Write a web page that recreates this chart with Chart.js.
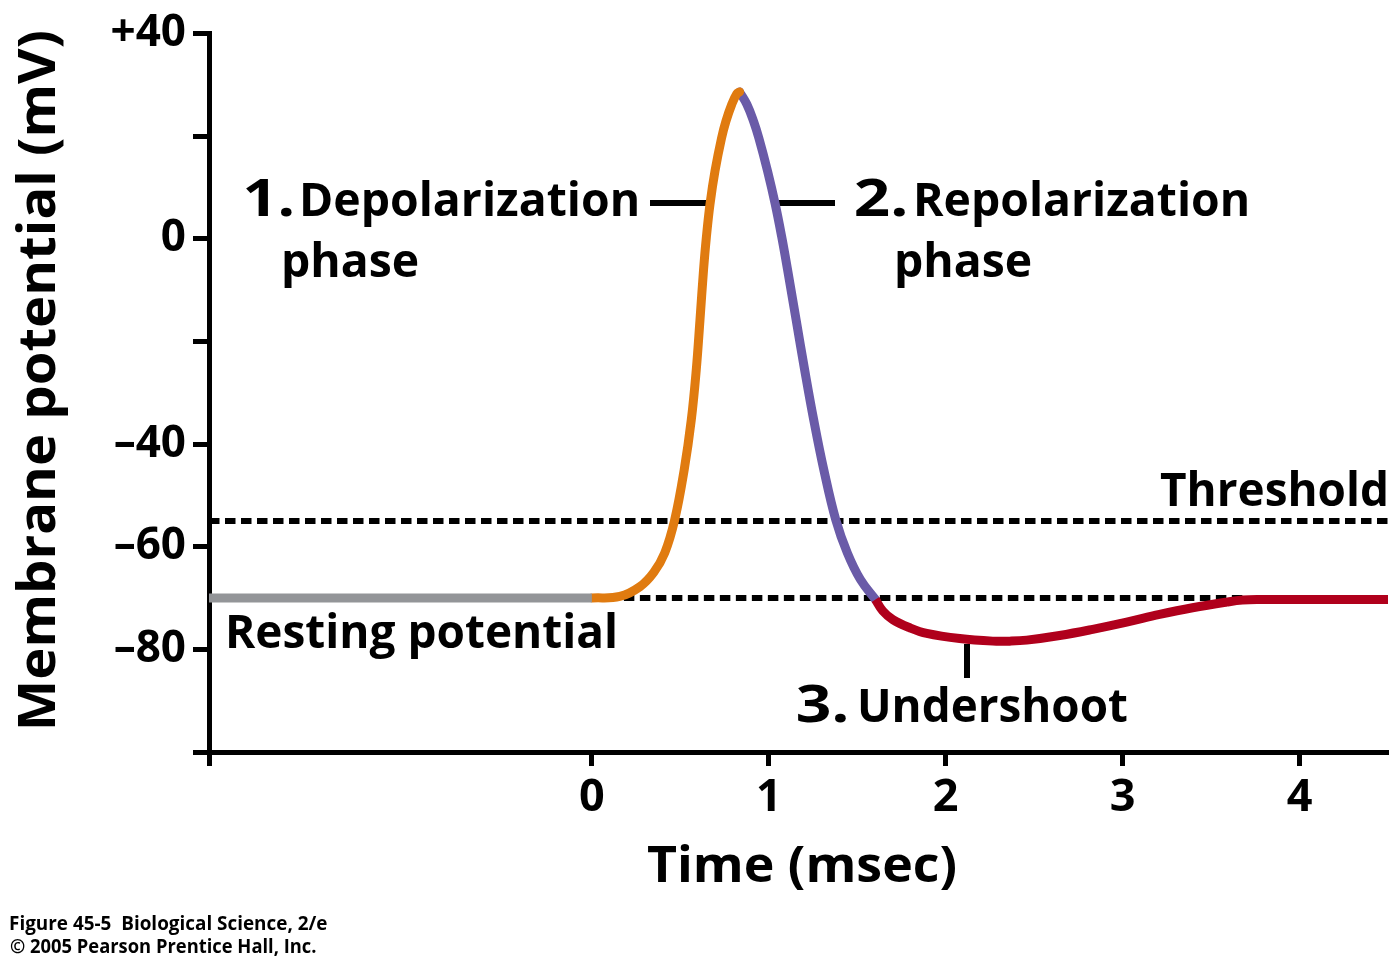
<!DOCTYPE html>
<html>
<head>
<meta charset="utf-8">
<script src="https://cdn.jsdelivr.net/npm/chart.js@4.4.1/dist/chart.umd.min.js"></script>
<style>
html,body{margin:0;padding:0;background:#fff;}
#wrap{width:1400px;height:959px;position:relative;}
</style>
</head>
<body>
<div id="wrap"><canvas id="c"></canvas></div>
<script>
// ---------- data ----------
const xAxisMin = -2.164;
const xAxisMax = 4.5;
const yAxisMin = -100;
const yAxisMax = 40;
const xTickValues = [0, 1, 2, 3, 4];
const xTickLabels = ['0', '1', '2', '3', '4'];
const yTickValues = [40, 20, 0, -20, -40, -60, -80, -100];
const yTickLabels = ['+40', '', '0', '', '–40', '–60', '–80', ''];

const restingTimes  = [-2.164, 0];
const restingValues = [-70, -70];

const depolTimes  = [0, 0.158, 0.271, 0.350, 0.412, 0.468, 0.522, 0.562, 0.590, 0.611, 0.631, 0.647, 0.668, 0.696, 0.733, 0.758, 0.791, 0.819, 0.835];
const depolValues = [-70, -69.7, -67.8, -65.0, -61.2, -54.8, -45.0, -35.3, -25.6, -15.9, -6.2, 0.2, 6.8, 13.2, 19.6, 22.9, 26.2, 28.2, 28.6];

const repolTimes  = [0.835, 0.876, 0.914, 0.944, 0.993, 1.036, 1.074, 1.107, 1.155, 1.203, 1.254, 1.311, 1.379, 1.444, 1.518, 1.603];
const repolValues = [28.6, 26.2, 22.9, 19.6, 13.2, 6.8, 0.2, -6.2, -15.9, -25.6, -35.3, -45.0, -54.8, -61.2, -66.4, -70.3];

const undershootTimes  = [1.603, 1.644, 1.701, 1.797, 1.893, 2.079, 2.266, 2.362, 2.458, 2.644, 2.831, 3.023, 3.209, 3.395, 3.588, 3.678, 3.774, 4.1, 4.5];
const undershootValues = [-70.3, -72.5, -74.2, -75.8, -76.9, -77.9, -78.4, -78.4, -78.2, -77.3, -76.1, -74.7, -73.2, -71.9, -70.8, -70.4, -70.3, -70.3, -70.3];

const thresholdTimes  = [-2.164, 4.5];
const thresholdValues = [-55, -55];

const restDashTimes  = [0, 3.68];
const restDashValues = [-70, -70];

// ---------- helpers ----------
const FONT = '"Open Sans", "DejaVu Sans", sans-serif';
function pts(xs, ys) { return xs.map((x, i) => ({ x: x, y: ys[i] })); }

function drawFit(ctx, str, x0, base, cap, len, rot, weight) {
  ctx.save();
  const w = weight || '700';
  ctx.font = w + ' 100px ' + FONT;
  const capR = ctx.measureText('H').actualBoundingBoxAscent / 100;
  const size = cap / capR;
  ctx.font = w + ' ' + size + 'px ' + FONT;
  ctx.textAlign = 'left';
  ctx.textBaseline = 'alphabetic';
  const m = ctx.measureText(str);
  const ink = m.actualBoundingBoxLeft + m.actualBoundingBoxRight;
  const sx = len / ink;
  ctx.translate(x0, base);
  if (rot) ctx.rotate(-Math.PI / 2);
  ctx.scale(sx, 1);
  ctx.fillStyle = '#000';
  ctx.fillText(str, m.actualBoundingBoxLeft, 0);
  ctx.restore();
}

function seg(ctx, x1, y1, x2, y2, w) {
  ctx.save();
  ctx.strokeStyle = '#000';
  ctx.lineWidth = w;
  ctx.lineCap = 'butt';
  ctx.beginPath();
  ctx.moveTo(x1, y1);
  ctx.lineTo(x2, y2);
  ctx.stroke();
  ctx.restore();
}

const annotations = {
  id: 'annotations',
  beforeDatasetsDraw(chart) {
    const ctx = chart.ctx;
    seg(ctx, 650, 203, 710, 203, 6);
    seg(ctx, 774, 203, 835, 203, 6);
    seg(ctx, 967, 644, 967, 678, 6);
  },
  afterDraw(chart) {
    const ctx = chart.ctx;
    drawFit(ctx, '1.', 246, 216, 37, 46);
    drawFit(ctx, 'Depolarization', 303, 216, 33, 334);
    drawFit(ctx, 'phase', 284, 277, 33, 134);
    drawFit(ctx, '2.', 855, 216, 37, 50);
    drawFit(ctx, 'Repolarization', 917, 216, 33, 330);
    drawFit(ctx, 'phase', 897, 277, 33, 134);
    drawFit(ctx, 'Threshold', 1160, 506, 33, 226);
    drawFit(ctx, 'Resting potential', 229, 648, 33, 386);
    drawFit(ctx, '3.', 797, 722, 37, 49);
    drawFit(ctx, 'Undershoot', 860, 722, 33, 267);
    drawFit(ctx, 'Time (msec)', 648, 882, 36, 307);
    drawFit(ctx, 'Membrane potential (mV)', 55, 727, 38, 695, true);
    drawFit(ctx, 'Figure 45-5  Biological Science, 2/e', 10, 930, 14, 317);
    drawFit(ctx, '© 2005 Pearson Prentice Hall, Inc.', 10, 953, 14, 306);
  }
};

const curveStyle = { borderWidth: 9, pointRadius: 0, tension: 0.4, fill: false, borderCapStyle: 'round', borderJoinStyle: 'round' };
const dashStyle = { borderColor: '#000', borderWidth: 6, borderDash: [10.5, 5.5], pointRadius: 0, tension: 0, fill: false, borderCapStyle: 'butt' };

new Chart(document.getElementById('c'), {
  type: 'line',
  data: {
    datasets: [
      Object.assign({ label: 'Resting', data: pts(restingTimes, restingValues), borderColor: '#939598' }, curveStyle, { borderCapStyle: 'butt', tension: 0 }),
      Object.assign({ label: 'Undershoot', data: pts(undershootTimes, undershootValues), borderColor: '#B0001C' }, curveStyle, { borderCapStyle: 'butt' }),
      Object.assign({ label: 'Depolarization', data: pts(depolTimes, depolValues), borderColor: '#E07B10' }, curveStyle),
      Object.assign({ label: 'Repolarization', data: pts(repolTimes, repolValues), borderColor: '#6A5BA8' }, curveStyle),
      Object.assign({ label: 'Threshold', data: pts(thresholdTimes, thresholdValues) }, dashStyle),
      Object.assign({ label: 'Resting level', data: pts(restDashTimes, restDashValues) }, dashStyle)
    ]
  },
  options: {
    responsive: true,
    maintainAspectRatio: false,
    animation: false,
    layout: { padding: { top: 32, right: 12, left: 0, bottom: 0 } },
    plugins: { legend: { display: false }, tooltip: { enabled: false } },
    scales: {
      x: {
        type: 'linear',
        min: xAxisMin,
        max: xAxisMax,
        afterBuildTicks: (s) => { s.ticks = [{ value: xAxisMin }].concat(xTickValues.map(v => ({ value: v }))); },
        afterFit: (s) => { s.height = 207; },
        ticks: {
          autoSkip: false, maxRotation: 0, padding: 5, color: '#000',
          font: { family: FONT, size: 45, weight: '700' },
          callback: (v) => { const i = xTickValues.indexOf(v); return i < 0 ? '' : xTickLabels[i]; }
        },
        grid: { drawOnChartArea: false, drawTicks: true, tickLength: 14, tickWidth: 5, tickColor: '#000' },
        border: { display: true, width: 5, color: '#000' }
      },
      y: {
        type: 'linear',
        min: yAxisMin,
        max: yAxisMax,
        afterBuildTicks: (s) => { s.ticks = yTickValues.map(v => ({ value: v })); },
        afterFit: (s) => { s.width = 209; },
        ticks: {
          autoSkip: false, padding: 7, color: '#000',
          font: { family: FONT, size: 44, weight: '700' },
          callback: (v) => { const i = yTickValues.indexOf(v); return i < 0 ? '' : yTickLabels[i]; }
        },
        grid: { drawOnChartArea: false, drawTicks: true, tickLength: 16, tickWidth: 5, tickColor: '#000' },
        border: { display: true, width: 5, color: '#000' }
      }
    }
  },
  plugins: [annotations]
});
</script>
</body>
</html>
